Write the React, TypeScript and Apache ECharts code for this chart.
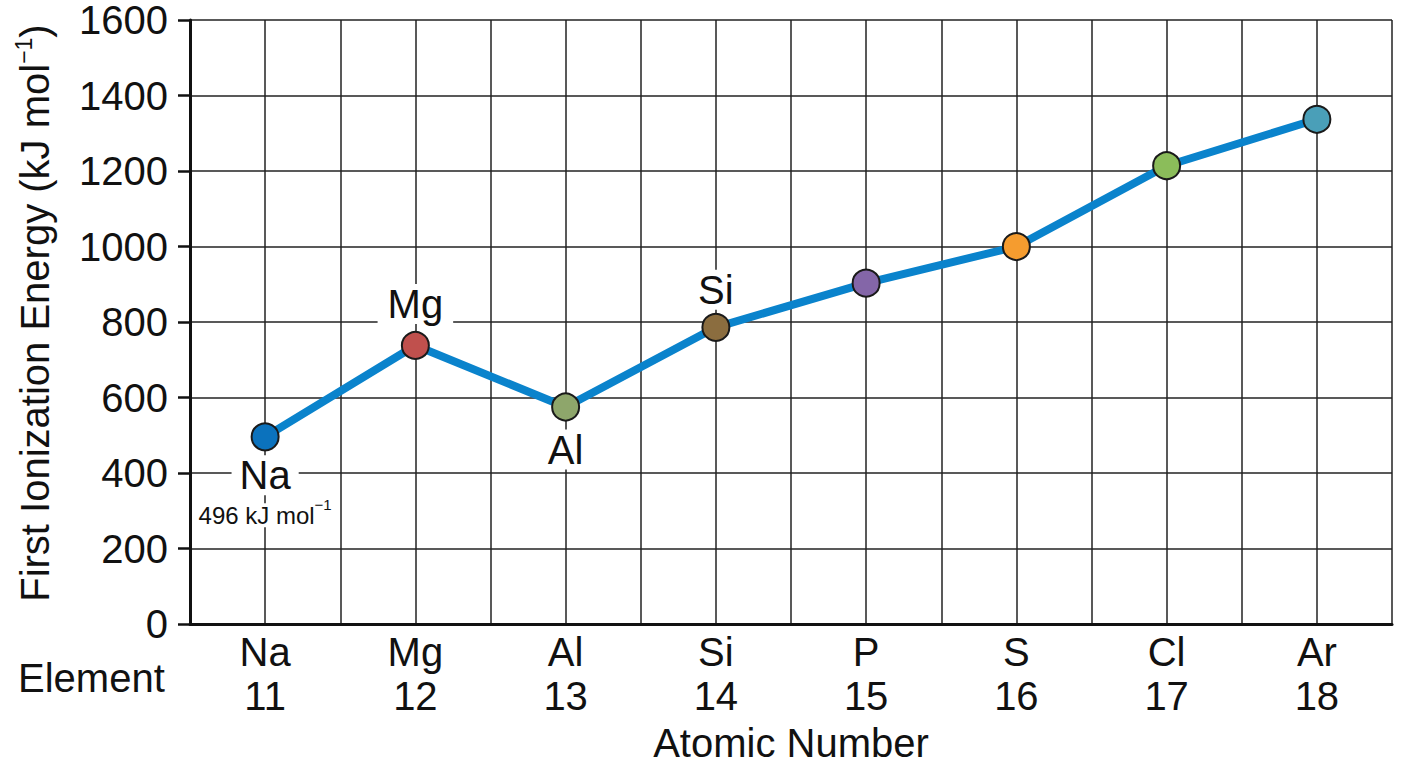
import React, { useEffect, useRef } from "react";
import * as echarts from "echarts";

// ---- data ----
const elements = ["Na", "Mg", "Al", "Si", "P", "S", "Cl", "Ar"];
const atomicNumbers = [11, 12, 13, 14, 15, 16, 17, 18];
const ionizationEnergy = [496, 738, 575, 786, 903, 1000, 1214, 1337];
const yMin = 0;
const yMax = 1600;
const yStep = 200;

// ---- styling (not data) ----
const pointColors = ["#0b72bd", "#c0504d", "#8ea66b", "#8b6d3f", "#8466a8", "#f59c2f", "#8bbd5a", "#4a9fb8"];
const FONT = "'Liberation Sans', Arial, Helvetica, sans-serif";
const INK = "#111111";
const FS = 40;

export default function App() {
  const ref = useRef<HTMLDivElement>(null);

  useEffect(() => {
    if (!ref.current) return;
    const chart = echarts.init(ref.current, undefined, { renderer: "svg" });

    const labelFor = (i: number): any => {
      const name = elements[i];
      const common = {
        show: true,
        color: INK,
        fontFamily: FONT,
        align: "center",
      };
      if (i === 0) {
        return {
          ...common,
          position: "bottom",
          distance: 2,
          formatter: `{a|${name}}\n{b|${ionizationEnergy[i]} kJ mol}{s|−1}`,
          rich: {
            a: { fontSize: FS, lineHeight: 44, backgroundColor: "#fff", padding: [0, 8], fontFamily: FONT, color: INK },
            b: { fontSize: 24, lineHeight: 36, backgroundColor: "#fff", fontFamily: FONT, color: INK },
            s: { fontSize: 15, lineHeight: 16, verticalAlign: "top", backgroundColor: "#fff", fontFamily: FONT, color: INK },
          },
        };
      }
      const pos: Record<number, [string, number]> = { 1: ["top", 5], 2: ["bottom", 6], 3: ["top", 1] };
      if (pos[i]) {
        return {
          ...common,
          position: pos[i][0],
          distance: pos[i][1],
          formatter: `{a|${name}}`,
          rich: {
            a: { fontSize: FS, lineHeight: 44, backgroundColor: "#fff", padding: [0, 10], fontFamily: FONT, color: INK },
          },
        };
      }
      return { show: false };
    };

    const seriesData = atomicNumbers.map((n, i) => ({
      value: [n, ionizationEnergy[i]],
      itemStyle: { color: pointColors[i] },
      label: labelFor(i),
    }));

    const gridLine = { show: true, lineStyle: { color: "#222", width: 1.5 } };

    chart.setOption({
      animation: false,
      backgroundColor: "#fff",
      textStyle: { fontFamily: FONT },
      grid: { left: 190, right: 16, top: 19.5, bottom: 141, containLabel: false },
      xAxis: {
        type: "value",
        min: 10.5,
        max: 18.5,
        interval: 0.5,
        name: "Atomic Number",
        nameLocation: "middle",
        nameGap: 96,
        nameTextStyle: { fontSize: FS, color: INK, fontFamily: FONT },
        axisLine: { show: true, onZero: false, lineStyle: { color: INK, width: 3 } },
        axisTick: { show: false },
        axisLabel: {
          margin: 6,
          fontSize: FS,
          lineHeight: 44,
          color: INK,
          fontFamily: FONT,
          formatter: (v: number) => {
            const idx = atomicNumbers.indexOf(v);
            return idx >= 0 ? `${elements[idx]}\n${v}` : "";
          },
        },
        splitLine: gridLine,
      },
      yAxis: {
        type: "value",
        min: yMin,
        max: yMax,
        interval: yStep,
        name: "First Ionization Energy (kJ mol{s|−1})",
        nameLocation: "middle",
        nameGap: 132,
        nameRotate: 90,
        nameTextStyle: {
          fontSize: FS,
          color: INK,
          fontFamily: FONT,
          lineHeight: 46,
          padding: [0, 0, 0, 18],
          rich: {
            s: { fontSize: 23, lineHeight: 20, verticalAlign: "top", color: INK, fontFamily: FONT },
          },
        },
        axisLine: { show: true, lineStyle: { color: INK, width: 3 } },
        axisTick: { show: true, length: 12, lineStyle: { color: INK, width: 2.5 } },
        axisLabel: {
          margin: 22,
          fontSize: FS,
          lineHeight: 34,
          color: INK,
          fontFamily: FONT,
          formatter: (v: number) => String(v),
        },
        splitLine: gridLine,
      },
      graphic: [
        {
          type: "text",
          x: 18,
          y: 678,
          style: {
            text: "Element",
            fontSize: FS,
            fontFamily: FONT,
            fill: INK,
            align: "left",
            verticalAlign: "middle",
          },
        },
      ],
      series: [
        {
          type: "line",
          data: seriesData,
          symbol: "circle",
          symbolSize: 27,
          lineStyle: { color: "#0a83cc", width: 8 },
          itemStyle: { borderColor: "#1a1a1a", borderWidth: 2 },
          z: 3,
        },
      ],
    });

    return () => chart.dispose();
  }, []);

  return (
    <div
      ref={ref}
      style={{ position: "absolute", left: 0, top: 0, width: 1408, height: 768, background: "#fff" }}
    />
  );
}
